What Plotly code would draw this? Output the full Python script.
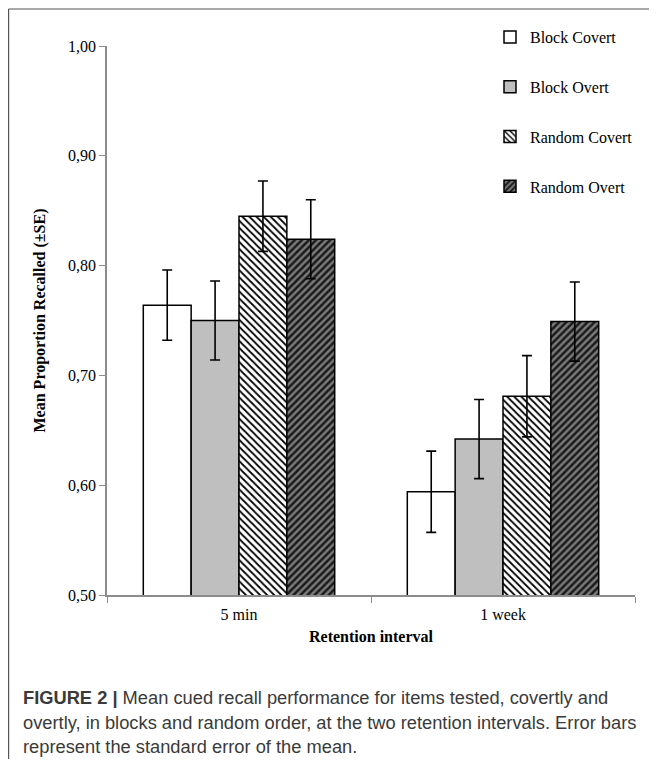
import plotly.graph_objects as go

categories = ["5 min", "1 week"]
series_names = ["Block Covert", "Block Overt", "Random Covert", "Random Overt"]
means = {
    "Block Covert": [0.764, 0.594],
    "Block Overt": [0.750, 0.642],
    "Random Covert": [0.845, 0.681],
    "Random Overt": [0.824, 0.749],
}
ses = {
    "Block Covert": [0.032, 0.037],
    "Block Overt": [0.036, 0.036],
    "Random Covert": [0.032, 0.037],
    "Random Overt": [0.036, 0.036],
}
y_ticks = [0.50, 0.60, 0.70, 0.80, 0.90, 1.00]
caption_lines = [
    "<b>FIGURE 2 |</b> Mean cued recall performance for items tested, covertly and",
    "overtly, in blocks and random order, at the two retention intervals. Error bars",
    "represent the standard error of the mean.",
]

styles = {
    "Block Covert": dict(color="white", pattern=dict(shape="")),
    "Block Overt": dict(color="#bfbfbf", pattern=dict(shape="")),
    "Random Covert": dict(color="white", pattern=dict(shape="\\", fgcolor="black", bgcolor="white",
                                                      size=5, solidity=0.35, fillmode="replace")),
    "Random Overt": dict(color="#7a7a7a", pattern=dict(shape="/", fgcolor="#1a1a1a", bgcolor="#7a7a7a",
                                                      size=5, solidity=0.5, fillmode="replace")),
}

serif = "Liberation Serif"
fig = go.Figure()
for name in series_names:
    st = styles[name]
    fig.add_trace(go.Bar(
        name=name, x=categories, y=means[name],
        legendgroup=name,
        marker=dict(color=st["color"], pattern=st["pattern"],
                    line=dict(color="black", width=1.5)),
        error_y=dict(type="data", array=ses[name], color="black", thickness=1.6, width=5),
    ))

# page body has an 8px margin; figure pixel = reference pixel - 8
W, H = 649, 751
L, R, T, B = 99, 22, 38, 164
pw, ph = W - L - R, H - T - B
OFF = 8

def px_x(x):
    return (x - OFF - L) / pw

def px_y(y):
    return (H - B - (y - OFF)) / ph

fig.update_layout(
    width=W, height=H,
    margin=dict(l=L, r=R, t=T, b=B),
    paper_bgcolor="white", plot_bgcolor="white",
    separators=",.",
    barmode="group", bargap=0.275, bargroupgap=0,
    font=dict(family=serif, size=16, color="black"),
    showlegend=True,
    legend=dict(x=px_x(490), y=px_y(20), xanchor="left", yanchor="top",
                font=dict(family=serif, size=16, color="black"),
                tracegroupgap=26, bgcolor="rgba(0,0,0,0)"),
    xaxis=dict(
        showline=True, linecolor="#8c8c8c", linewidth=1.5,
        ticks="outside", tickson="boundaries", ticklen=6, tickcolor="#8c8c8c",
        ticklabelstandoff=4,
        tickfont=dict(family=serif, size=16, color="black"),
        title=dict(text="<b>Retention interval</b>", font=dict(family=serif, size=16, color="black"),
                   standoff=9),
    ),
    yaxis=dict(
        range=[0.5, 1.0], tickvals=y_ticks, tickformat=".2f",
        showline=True, linecolor="#8c8c8c", linewidth=1.5,
        ticks="outside", ticklen=6, tickcolor="#8c8c8c",
        showgrid=False, zeroline=False,
        tickfont=dict(family=serif, size=16, color="black"),
        title=dict(text="<b>Mean Proportion Recalled (±SE)</b>",
                   font=dict(family=serif, size=16, color="black"), standoff=18),
    ),
)

# frame lines (top and left)
fig.add_shape(type="line", xref="paper", yref="paper",
              x0=px_x(8.6), x1=px_x(665), y0=px_y(9), y1=px_y(9),
              line=dict(color="#555555", width=1.2))
fig.add_shape(type="line", xref="paper", yref="paper",
              x0=px_x(8.6), x1=px_x(8.6), y0=px_y(9), y1=px_y(770),
              line=dict(color="#555555", width=1.2))

for line, ypx in zip(caption_lines, [697, 722, 746]):
    fig.add_annotation(text=line, xref="paper", yref="paper",
                       x=px_x(21), y=px_y(ypx), xanchor="left", yanchor="middle",
                       showarrow=False, align="left",
                       font=dict(family="Liberation Sans", size=18.3, color="#3a3a3a"))

fig.write_html("out.html")
